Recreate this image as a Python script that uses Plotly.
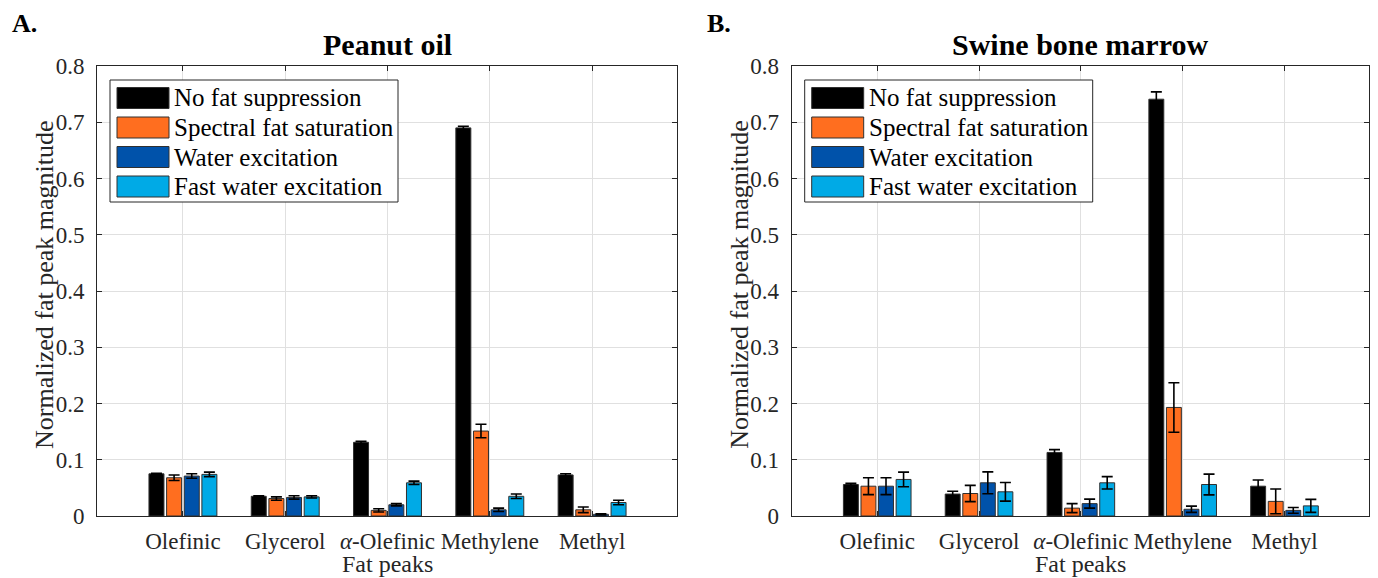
import plotly.graph_objects as go

# ---------------- data ----------------
categories = ["Olefinic", "Glycerol", "<i>α</i>-Olefinic", "Methylene", "Methyl"]
cat_pos = [1, 2, 3, 4, 5]
series = ["No fat suppression", "Spectral fat saturation", "Water excitation", "Fast water excitation"]
colors = ["#000000", "#FF6E1F", "#0052AA", "#00AAE6"]

peanut_no_fs = [0.075, 0.035, 0.131, 0.690, 0.073]
peanut_no_fs_err = [0.001, 0.001, 0.002, 0.003, 0.002]
peanut_sfs = [0.068, 0.031, 0.010, 0.151, 0.011]
peanut_sfs_err = [0.005, 0.003, 0.003, 0.012, 0.005]
peanut_we = [0.071, 0.033, 0.020, 0.011, 0.003]
peanut_we_err = [0.004, 0.003, 0.002, 0.003, 0.001]
peanut_fwe = [0.074, 0.034, 0.059, 0.035, 0.024]
peanut_fwe_err = [0.004, 0.002, 0.003, 0.004, 0.004]

marrow_no_fs = [0.056, 0.039, 0.113, 0.741, 0.053]
marrow_no_fs_err = [0.002, 0.005, 0.005, 0.013, 0.011]
marrow_sfs = [0.053, 0.040, 0.014, 0.193, 0.026]
marrow_sfs_err = [0.015, 0.0145, 0.008, 0.044, 0.022]
marrow_we = [0.053, 0.059, 0.022, 0.012, 0.010]
marrow_we_err = [0.015, 0.0195, 0.008, 0.0055, 0.005]
marrow_fwe = [0.065, 0.043, 0.059, 0.056, 0.018]
marrow_fwe_err = [0.013, 0.0165, 0.011, 0.0185, 0.0115]

y_ticks = [0, 0.1, 0.2, 0.3, 0.4, 0.5, 0.6, 0.7, 0.8]
panel_titles = ["Peanut oil", "Swine bone marrow"]
panel_letters = ["A.", "B."]
x_title = "Fat peaks"
y_title = "Normalized fat peak magnitude"

peanut = [(peanut_no_fs, peanut_no_fs_err), (peanut_sfs, peanut_sfs_err),
          (peanut_we, peanut_we_err), (peanut_fwe, peanut_fwe_err)]
marrow = [(marrow_no_fs, marrow_no_fs_err), (marrow_sfs, marrow_sfs_err),
          (marrow_we, marrow_we_err), (marrow_fwe, marrow_fwe_err)]

# ---------------- layout geometry (pixels) ----------------
W, H = 1378, 578
FONT = "Liberation Serif"
TXT = "#262626"
ax_left_px = [97, 791.7]
ax_right_px = [677, 1369]
ax_top_px, ax_bot_px = 66, 516


def px(x):
    return x / W


def py(y):
    return 1 - y / H


fig = go.Figure()

axes_names = [("x", "y"), ("x2", "y2")]
for p, data in enumerate([peanut, marrow]):
    xa, ya = axes_names[p]
    for s, (vals, errs) in enumerate(data):
        fig.add_trace(go.Bar(
            x=cat_pos, y=vals, name=series[s], xaxis=xa, yaxis=ya,
            marker=dict(color=colors[s], line=dict(color="#303030", width=1)),
            error_y=dict(type="data", array=errs, visible=True, color="#000000",
                         thickness=1.6, width=5.5),
            showlegend=False, hoverinfo="y",
        ))

axis_common = dict(
    showline=True, linecolor=TXT, linewidth=1, mirror="ticks",
    ticks="inside", ticklen=5, tickcolor=TXT, tickwidth=1,
    showgrid=True, gridcolor="#e0e0e0", gridwidth=1, zeroline=False,
    tickfont=dict(family=FONT, size=23, color=TXT), automargin=False,
)

layout = dict(
    width=W, height=H, margin=dict(l=0, r=0, t=0, b=0, pad=0, autoexpand=False),
    paper_bgcolor="white", plot_bgcolor="white",
    barmode="group", bargap=0.31, bargroupgap=0.15,
    showlegend=False,
)
for p in range(2):
    xk = "xaxis" if p == 0 else "xaxis2"
    yk = "yaxis" if p == 0 else "yaxis2"
    layout[xk] = dict(
        axis_common, domain=[px(ax_left_px[p]), px(ax_right_px[p])],
        range=[0.16, 5.83], tickvals=cat_pos, ticktext=categories,
        anchor="y" if p == 0 else "y2", ticklabelstandoff=4,
    )
    layout[yk] = dict(
        axis_common, domain=[py(ax_bot_px), py(ax_top_px)],
        range=[0, 0.8], tickvals=y_ticks, ticktext=[f"{v:g}" for v in y_ticks],
        anchor="x" if p == 0 else "x2", ticklabelstandoff=7,
    )
fig.update_layout(**layout)

annotations = []
shapes = []
for p in range(2):
    cx = (ax_left_px[p] + ax_right_px[p]) / 2
    annotations.append(dict(x=px(cx), y=py(45), xref="paper", yref="paper",
                            text=f"<b>{panel_titles[p]}</b>", showarrow=False,
                            font=dict(family=FONT, size=30, color="#000000"),
                            xanchor="center", yanchor="middle"))
    annotations.append(dict(x=px(ax_left_px[p] - 87), y=py(24), xref="paper", yref="paper",
                            text=f"<b>{panel_letters[p]}</b>", showarrow=False,
                            font=dict(family=FONT, size=26, color="#000000"),
                            xanchor="left", yanchor="middle"))
    annotations.append(dict(x=px(cx), y=py(564), xref="paper", yref="paper",
                            text=x_title, showarrow=False,
                            font=dict(family=FONT, size=24, color=TXT),
                            xanchor="center", yanchor="middle"))
    annotations.append(dict(x=px(ax_left_px[p] - 53), y=py(285), xref="paper", yref="paper",
                            text=y_title, showarrow=False, textangle=-90,
                            font=dict(family=FONT, size=26, color=TXT),
                            xanchor="center", yanchor="middle"))
    lx0 = ax_left_px[p] + 13
    shapes.append(dict(type="rect", xref="paper", yref="paper",
                       x0=px(lx0), x1=px(lx0 + 288), y0=py(80), y1=py(202),
                       line=dict(color=TXT, width=1), fillcolor="white", layer="above"))
    for s in range(4):
        cy = 98 + s * 29.5
        shapes.append(dict(type="rect", xref="paper", yref="paper",
                           x0=px(lx0 + 7), x1=px(lx0 + 59), y0=py(cy + 10.5), y1=py(cy - 10.5),
                           line=dict(color="#303030", width=1), fillcolor=colors[s], layer="above"))
        annotations.append(dict(x=px(lx0 + 62), y=py(cy), xref="paper", yref="paper",
                                text=series[s], showarrow=False,
                                font=dict(family=FONT, size=25, color="#000000"),
                                xanchor="left", yanchor="middle"))

fig.update_layout(annotations=annotations, shapes=shapes)
fig.write_html("out.html")
